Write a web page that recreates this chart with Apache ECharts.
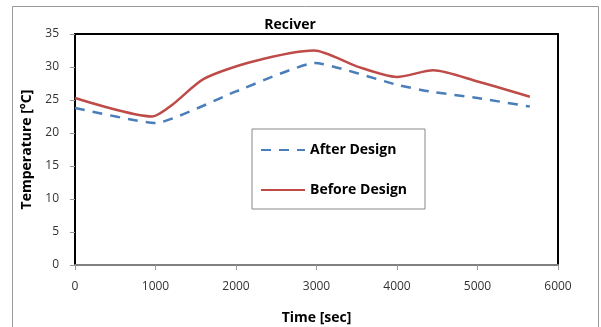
<!DOCTYPE html>
<html>
<head>
<meta charset="utf-8">
<script src="https://cdn.jsdelivr.net/npm/echarts@6/dist/echarts.min.js"></script>
<style>
  html, body { margin: 0; padding: 0; background: #fff; }
  #chart { width: 601px; height: 327px; }
</style>
</head>
<body>
<div id="chart"></div>
<script>
// values: [time sec, temperature °C]
var afterDesign = [[0, 23.8], [1000, 21.5], [2000, 26.3], [2980, 30.6], [4000, 27.3], [4400, 26.3], [5000, 25.3], [5650, 24.0]];
var beforeDesign = [[0, 25.3], [960, 22.5], [1200, 24.2], [1600, 28.2], [2200, 30.8], [2970, 32.5], [3500, 30.1], [4000, 28.5], [4450, 29.5], [5000, 27.8], [5650, 25.5]];
var seriesNames = ['After Design', 'Before Design'];

var font = '"Open Sans", "Liberation Sans", sans-serif';
var chart = echarts.init(document.getElementById('chart'));

chart.setOption({
  backgroundColor: '#fff',
  animation: false,
  textStyle: { fontFamily: font },
  graphic: [{
    type: 'rect',
    shape: { x: 12.5, y: 6.5, width: 586, height: 340 },
    style: { fill: 'none', stroke: '#999', lineWidth: 1 },
    silent: true
  }],
  title: {
    text: 'Reciver',
    left: 285, top: 13, textAlign: 'center',
    textStyle: { fontFamily: font, fontSize: 14, fontWeight: 'bold', color: '#000' }
  },
  legend: {
    orient: 'vertical',
    left: 252, top: 129,
    padding: [14, 18, 12, 8],
    itemGap: 26,
    itemWidth: 44, itemHeight: 14,
    borderColor: '#888', borderWidth: 1,
    backgroundColor: '#fff',
    itemStyle: { opacity: 0 },
    data: seriesNames,
    textStyle: { fontFamily: font, fontSize: 14, fontWeight: 'bold', color: '#000' }
  },
  grid: {
    left: 75, right: 43, top: 34, bottom: 62,
    outerBoundsMode: 'none',
    show: true, borderColor: '#000', borderWidth: 2, backgroundColor: 'transparent'
  },
  xAxis: {
    type: 'value',
    min: 0, max: 6000, interval: 1000,
    name: 'Time [sec]',
    nameLocation: 'middle', nameGap: 46,
    nameTextStyle: { fontFamily: font, fontSize: 14, fontWeight: 'bold', color: '#000' },
    axisLine: { show: true, lineStyle: { color: '#808080', width: 2 } },
    axisTick: { show: true, length: 5, lineStyle: { color: '#999' } },
    axisLabel: { fontFamily: font, fontSize: 12, color: '#333', margin: 16, formatter: function (v) { return String(v); } },
    splitLine: { show: false }
  },
  yAxis: {
    type: 'value',
    min: 0, max: 35, interval: 5,
    name: 'Temperature [°C]',
    nameLocation: 'middle', nameGap: 40,
    nameTextStyle: { fontFamily: font, fontSize: 14, fontWeight: 'bold', color: '#000' },
    axisLine: { show: true, lineStyle: { color: '#000', width: 2 } },
    axisTick: { show: true, length: 5, lineStyle: { color: '#999' } },
    axisLabel: { fontFamily: font, fontSize: 12, color: '#333', margin: 16 },
    splitLine: { show: false }
  },
  series: [{
    name: seriesNames[0],
    type: 'line',
    data: afterDesign,
    smooth: 0.15,
    symbol: 'none',
    itemStyle: { color: '#4a7ebb' },
    lineStyle: { color: '#4a7ebb', width: 2.5, type: [10, 8] }
  }, {
    name: seriesNames[1],
    type: 'line',
    data: beforeDesign,
    smooth: 0.25,
    symbol: 'none',
    itemStyle: { color: '#be4b48' },
    lineStyle: { color: '#be4b48', width: 2.5 }
  }]
});
</script>
</body>
</html>
